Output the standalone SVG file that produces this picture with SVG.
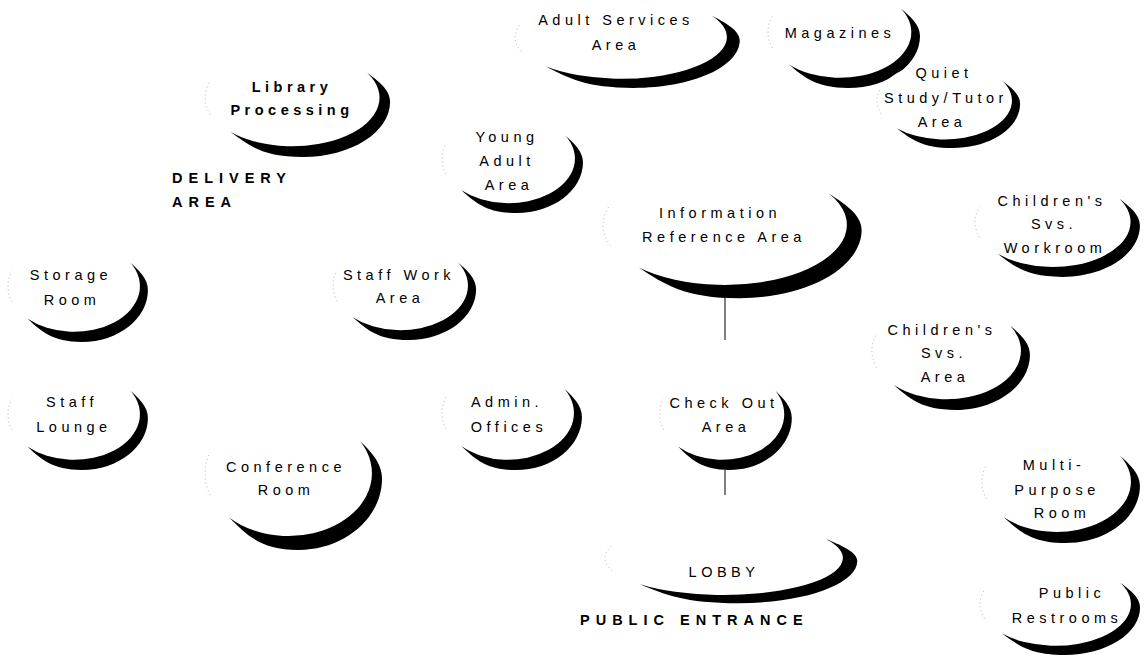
<svg xmlns="http://www.w3.org/2000/svg" width="1148" height="659" viewBox="0 0 1148 659">
<style>
.sh{fill:#000}
.wh{fill:#fff}
.ed{fill:none;stroke:#b0b0b0;stroke-width:1;stroke-dasharray:1 3}
.t{font-family:"Liberation Sans",Arial,sans-serif;font-size:14.5px;letter-spacing:4.5px;fill:#000;text-anchor:middle}
.b{font-weight:bold}
.lab{font-family:"Liberation Sans",Arial,sans-serif;font-size:14.5px;font-weight:bold;letter-spacing:6px;fill:#000}
.cn{stroke:#000;stroke-width:1;fill:none}
</style>
<defs>
<path id="cres" class="sh" d="M0.857,-0.515 A1,1 0 0 1 -0.707,0.707 C-0.497,0.987 -0.33,1.22 0.12,1.22 C0.672,1.22 1.12,0.71 1.12,0.08 C1.12,-0.17 0.977,-0.355 0.857,-0.515 Z"/>
<ellipse id="wel" class="wh" cx="0" cy="0" rx="1" ry="1"/>
<path id="edge" class="ed" d="M-0.94,0.342 A1,1 0 0 1 -0.94,-0.342" vector-effect="non-scaling-stroke"/>
</defs>
<rect width="1148" height="659" fill="#fff"/>
<g id="connectors">
<line class="cn" x1="725" y1="297" x2="725" y2="340"/>
<line class="cn" x1="725" y1="470" x2="725" y2="495"/>
</g>
<g id="adult-services">
<g transform="translate(621,37.2) scale(106,41.6)"><use href="#wel"/><use href="#cres"/><use href="#edge"/></g>
<text class="t" x="616" y="25">Adult Services</text>
<text class="t" x="616" y="50">Area</text>
</g>
<g id="magazines">
<g transform="translate(839.7,32.3) scale(71.7,45.6)"><use href="#wel"/><use href="#cres"/><use href="#edge"/></g>
<text class="t" x="840" y="38">Magazines</text>
</g>
<g id="quiet-study">
<g transform="translate(944.5,100.7) scale(67.5,38.8)"><use href="#wel"/><use href="#cres"/><use href="#edge"/></g>
<text class="t" x="944" y="78">Quiet</text>
<text class="t" x="946" y="103">Study/Tutor</text>
<text class="t" x="942" y="127">Area</text>
</g>
<g id="library-processing">
<g transform="translate(292.3,97.8) scale(87.3,48.5)"><use href="#wel"/><use href="#cres"/><use href="#edge"/></g>
<text class="t b" x="292" y="92">Library</text>
<text class="t b" x="292" y="115">Processing</text>
</g>
<g id="delivery-area">
<text class="lab" x="172" y="183">DELIVERY</text>
<text class="lab" x="172" y="207">AREA</text>
</g>
<g id="young-adult">
<g transform="translate(508.5,158.7) scale(66.5,44.5)"><use href="#wel"/><use href="#cres"/><use href="#edge"/></g>
<text class="t" x="507" y="142">Young</text>
<text class="t" x="507" y="166">Adult</text>
<text class="t" x="509" y="190">Area</text>
</g>
<g id="information-reference">
<g transform="translate(725,225) scale(122,60)"><use href="#wel"/><use href="#cres"/><use href="#edge"/></g>
<text class="t" x="720" y="218">Information</text>
<text class="t" x="724" y="242">Reference Area</text>
</g>
<g id="childrens-workroom">
<g transform="translate(1052.8,222) scale(77.8,45)"><use href="#wel"/><use href="#cres"/><use href="#edge"/></g>
<text class="t" x="1052" y="206">Children's</text>
<text class="t" x="1054" y="229">Svs.</text>
<text class="t" x="1055" y="253">Workroom</text>
</g>
<g id="storage-room">
<g transform="translate(74,286.3) scale(66,45.6)"><use href="#wel"/><use href="#cres"/><use href="#edge"/></g>
<text class="t" x="71" y="280">Storage</text>
<text class="t" x="72" y="305">Room</text>
</g>
<g id="staff-work">
<g transform="translate(400.5,285.7) scale(67.5,44.5)"><use href="#wel"/><use href="#cres"/><use href="#edge"/></g>
<text class="t" x="399" y="280">Staff Work</text>
<text class="t" x="400" y="303">Area</text>
</g>
<g id="childrens-area">
<g transform="translate(946.5,350.8) scale(74.5,48.5)"><use href="#wel"/><use href="#cres"/><use href="#edge"/></g>
<text class="t" x="942" y="335">Children's</text>
<text class="t" x="944" y="358">Svs.</text>
<text class="t" x="945" y="382">Area</text>
</g>
<g id="staff-lounge">
<g transform="translate(74,414.3) scale(66,45.6)"><use href="#wel"/><use href="#cres"/><use href="#edge"/></g>
<text class="t" x="72" y="407">Staff</text>
<text class="t" x="74" y="432">Lounge</text>
</g>
<g id="admin-offices">
<g transform="translate(508,413) scale(66,46.8)"><use href="#wel"/><use href="#cres"/><use href="#edge"/></g>
<text class="t" x="507" y="407">Admin.</text>
<text class="t" x="509" y="432">Offices</text>
</g>
<g id="check-out">
<g transform="translate(722,414.3) scale(62.3,45.6)"><use href="#wel"/><use href="#cres"/><use href="#edge"/></g>
<text class="t" x="724" y="408">Check Out</text>
<text class="t" x="726" y="432">Area</text>
</g>
<g id="conference-room">
<g transform="translate(288.5,473.4) scale(83.5,62.7)"><use href="#wel"/><use href="#cres"/><use href="#edge"/></g>
<text class="t" x="286" y="472">Conference</text>
<text class="t" x="286" y="495">Room</text>
</g>
<g id="multi-purpose">
<g transform="translate(1056.5,481.8) scale(74.5,50.2)"><use href="#wel"/><use href="#cres"/><use href="#edge"/></g>
<text class="t" x="1054" y="470">Multi-</text>
<text class="t" x="1057" y="495">Purpose</text>
<text class="t" x="1062" y="518">Room</text>
</g>
<g id="lobby">
<g transform="translate(724,558) scale(119,37)"><use href="#wel"/><use href="#cres"/><use href="#edge"/></g>
<text class="t" x="724" y="577">LOBBY</text>
</g>
<g id="public-entrance">
<text class="lab" x="580" y="625">PUBLIC ENTRANCE</text>
</g>
<g id="public-restrooms">
<g transform="translate(1055.5,604.2) scale(75.5,41.6)"><use href="#wel"/><use href="#cres"/><use href="#edge"/></g>
<text class="t" x="1072" y="598">Public</text>
<text class="t" x="1067" y="623">Restrooms</text>
</g>
</svg>
